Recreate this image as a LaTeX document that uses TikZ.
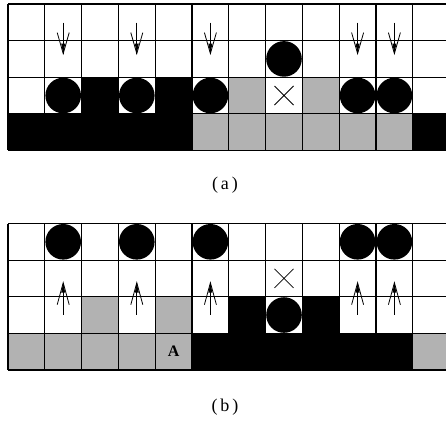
\documentclass[tikz,border=0pt]{standalone}
\usepackage{fontspec}
\setmainfont{Liberation Serif}
\begin{document}
\begin{tikzpicture}[x=1pt,y=-1pt,
  gridline/.style={line width=1.2pt,black},
  graycell/.style={fill=black!30},
  blackcell/.style={fill=black},
  ball/.style={fill=black},
  cross/.style={line width=0.8pt},
  arrline/.style={line width=0.8pt},
  downarr/.pic={
    \draw[arrline] (0pt,18pt) -- (0pt,-13pt);
    \draw[arrline] (-6pt,8pt) -- (0pt,-13pt) -- (6pt,8pt);
    \fill (-2pt,-3pt) -- (0pt,-13pt) -- (2pt,-3pt) -- cycle;
  },
  uparr/.pic={
    \draw[arrline] (0pt,-18pt) -- (0pt,14pt);
    \draw[arrline] (-6pt,-8pt) -- (0pt,14pt) -- (6pt,-8pt);
    \fill (-2pt,4pt) -- (0pt,14pt) -- (2pt,4pt) -- cycle;
  },
  lab/.style={font=\fontsize{18}{20}\selectfont}
]
\useasboundingbox (0,0) rectangle (446,424);
\clip (0,0) rectangle (446,424);
\fill[white] (0,0) rectangle (446,424);

% ---------- (a) ----------
\begin{scope}[shift={(8,4)},x=36.8pt,y=-36.6pt]
  \foreach \c in {6,8} \fill[graycell] (\c,2) rectangle ++(1,1);
  \foreach \c in {5,...,10} \fill[graycell] (\c,3) rectangle ++(1,1);
  \foreach \c in {2,4} \fill[blackcell] (\c,2) rectangle ++(1,1);
  \foreach \c in {0,...,4,11} \fill[blackcell] (\c,3) rectangle ++(1,1);
  \foreach \c in {0,...,12} \draw[gridline] (\c,0) -- (\c,4);
  \foreach \r in {0,...,4} \draw[gridline] (0,\r) -- (12.2,\r);
  \foreach \c in {1,3,5,9,10} \fill[ball] (\c+0.5,2.5) circle[radius=17.8pt];
  \fill[ball] (7.5,1.5) circle[radius=17.8pt];
  \draw[cross] (7.5,2.5) +(-9.5pt,-9.5pt) -- +(9.5pt,9.5pt) +(-9.5pt,9.5pt) -- +(9.5pt,-9.5pt);
  \foreach \c in {1,3,5,9,10} \pic at (\c+0.5,1) {downarr};
\end{scope}
\node[lab] (la) at (225,185) {(\,a\,)};

% ---------- (b) ----------
\begin{scope}[shift={(8,223.5)},x=36.8pt,y=-36.6pt]
  \foreach \c in {2,4} \fill[graycell] (\c,2) rectangle ++(1,1);
  \foreach \c in {0,...,4,11} \fill[graycell] (\c,3) rectangle ++(1,1);
  \foreach \c in {6,8} \fill[blackcell] (\c,2) rectangle ++(1,1);
  \foreach \c in {5,...,10} \fill[blackcell] (\c,3) rectangle ++(1,1);
  \foreach \c in {0,...,12} \draw[gridline] (\c,0) -- (\c,4);
  \foreach \r in {0,...,4} \draw[gridline] (0,\r) -- (12.2,\r);
  \foreach \c in {1,3,5,9,10} \fill[ball] (\c+0.5,0.5) circle[radius=17.8pt];
  \fill[ball] (7.5,2.5) circle[radius=17.8pt];
  \draw[cross] (7.5,1.5) +(-9.5pt,-9.5pt) -- +(9.5pt,9.5pt) +(-9.5pt,9.5pt) -- +(9.5pt,-9.5pt);
  \foreach \c in {1,3,5,9,10} \pic at (\c+0.5,2) {uparr};
  \node[font=\bfseries\fontsize{16}{18}\selectfont] (A) at (4.5,3.5) {A};
\end{scope}
\node[lab] (lb) at (225,407) {(\,b\,)};
\end{tikzpicture}
\end{document}
